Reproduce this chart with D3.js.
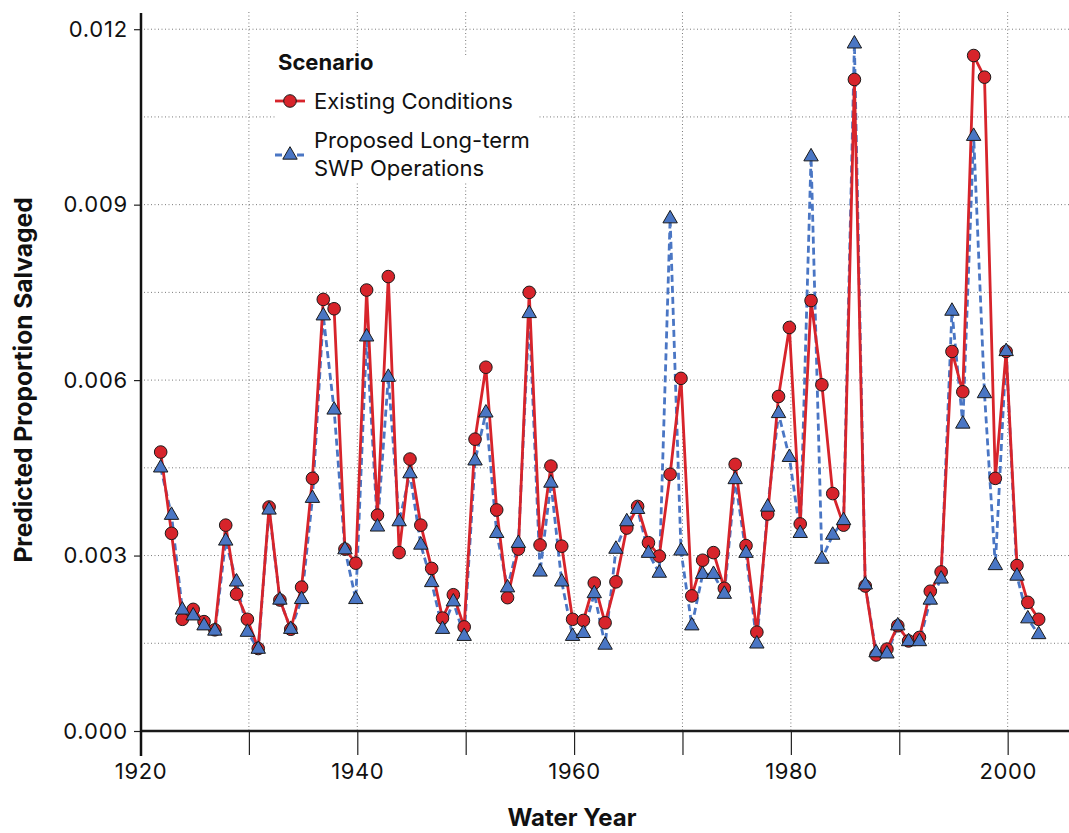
<!DOCTYPE html>
<html>
<head>
<meta charset="utf-8">
<script src="https://cdn.jsdelivr.net/npm/d3@7"></script>
<style>
	body { margin: 0; background: #fff; }
	svg { display: block; font-family: Inter, 'Liberation Sans', sans-serif; }
</style>
</head>
<body>
<svg id="main_svg"></svg>
<script>
const WIDTH = 1069;
const HEIGHT = 833;

const years = [
	1922, 1923, 1924, 1925, 1926, 1927, 1928, 1929, 1930, 1931,
	1932, 1933, 1934, 1935, 1936, 1937, 1938, 1939, 1940, 1941,
	1942, 1943, 1944, 1945, 1946, 1947, 1948, 1949, 1950, 1951,
	1952, 1953, 1954, 1955, 1956, 1957, 1958, 1959, 1960, 1961,
	1962, 1963, 1964, 1965, 1966, 1967, 1968, 1969, 1970, 1971,
	1972, 1973, 1974, 1975, 1976, 1977, 1978, 1979, 1980, 1981,
	1982, 1983, 1984, 1985, 1986, 1987, 1988, 1989, 1990, 1991,
	1992, 1993, 1994, 1995, 1996, 1997, 1998, 1999, 2000, 2001,
	2002, 2003
];

// Existing Conditions
const existing = [
	0.00477, 0.00338, 0.00191, 0.00208, 0.00187, 0.00173, 0.00352, 0.00234, 0.00191, 0.00141,
	0.00383, 0.00224, 0.00174, 0.00246, 0.00432, 0.00738, 0.00722, 0.00311, 0.00287, 0.00754,
	0.00369, 0.00777, 0.00305, 0.00465, 0.00352, 0.00278, 0.00193, 0.00233, 0.00178, 0.00499,
	0.00622, 0.00378, 0.00228, 0.00311, 0.00750, 0.00318, 0.00453, 0.00316, 0.00191, 0.00189,
	0.00253, 0.00185, 0.00255, 0.00347, 0.00384, 0.00322, 0.00299, 0.00439, 0.00603, 0.00231,
	0.00292, 0.00305, 0.00244, 0.00456, 0.00317, 0.00169, 0.00371, 0.00572, 0.00690, 0.00354,
	0.00736, 0.00592, 0.00406, 0.00352, 0.01114, 0.00248, 0.00130, 0.00140, 0.00180, 0.00154,
	0.00160, 0.00239, 0.00272, 0.00649, 0.00580, 0.01155, 0.01118, 0.00432, 0.00649, 0.00283,
	0.00220, 0.00191
];

// Proposed Long-term SWP Operations
const proposed = [
	0.00450, 0.00369, 0.00207, 0.00197, 0.00180, 0.00171, 0.00325, 0.00255, 0.00169, 0.00140,
	0.00378, 0.00224, 0.00174, 0.00225, 0.00398, 0.00710, 0.00549, 0.00310, 0.00225, 0.00674,
	0.00349, 0.00605, 0.00358, 0.00440, 0.00318, 0.00254, 0.00174, 0.00221, 0.00162, 0.00462,
	0.00544, 0.00338, 0.00245, 0.00321, 0.00714, 0.00272, 0.00424, 0.00255, 0.00162, 0.00167,
	0.00235, 0.00147, 0.00311, 0.00358, 0.00379, 0.00304, 0.00270, 0.00876, 0.00308, 0.00180,
	0.00268, 0.00268, 0.00234, 0.00430, 0.00304, 0.00149, 0.00383, 0.00543, 0.00468, 0.00338,
	0.00982, 0.00294, 0.00335, 0.00360, 0.01175, 0.00250, 0.00134, 0.00132, 0.00180, 0.00153,
	0.00153, 0.00224, 0.00260, 0.00718, 0.00525, 0.01017, 0.00577, 0.00283, 0.00649, 0.00265,
	0.00192, 0.00165
];

const x_ticks = [1920, 1940, 1960, 1980, 2000];
const x_grid = [1920, 1930, 1940, 1950, 1960, 1970, 1980, 1990, 2000];
const y_ticks = [0, 0.003, 0.006, 0.009, 0.012];
const y_grid = [0.0015, 0.003, 0.0045, 0.006, 0.0075, 0.009, 0.0105, 0.012];

const RED = '#d7242b';
const BLUE = '#4a76c4';

const svg = d3.select('#main_svg').attr('width', WIDTH).attr('height', HEIGHT);

const x_scale = d3.scaleLinear().domain([1920, 2006]).range([140.5, 1072.7]);
const y_scale = d3.scaleLinear().domain([0, 0.01226]).range([731, 14]);

// gridlines
svg.append('g').selectAll('line')
	.data(y_grid)
	.enter()
	.append('line')
	.attr('x1', 144).attr('x2', WIDTH)
	.attr('y1', d => y_scale(d)).attr('y2', d => y_scale(d))
	.attr('stroke', '#7a7a7a').attr('stroke-width', 1)
	.attr('stroke-dasharray', '1,2.5');

svg.append('g').selectAll('line')
	.data(x_grid.filter(d => d > 1920))
	.enter()
	.append('line')
	.attr('x1', d => x_scale(d)).attr('x2', d => x_scale(d))
	.attr('y1', 12).attr('y2', 730)
	.attr('stroke', '#7a7a7a').attr('stroke-width', 1)
	.attr('stroke-dasharray', '1,2.5');

// legend background hides grid under it
svg.append('rect')
	.attr('x', 275).attr('y', 55).attr('width', 262).attr('height', 128)
	.attr('fill', '#fff');

// x axis: zero line plus downward ticks
const x_axis = svg.append('g').attr('transform', 'translate(0,731)')
	.call(d3.axisBottom(x_scale).tickValues(x_grid).tickSize(24).tickPadding(8)
		.tickFormat(d => x_ticks.includes(d) ? d : ''));
x_axis.select('.domain').remove();
x_axis.selectAll('.tick line').attr('stroke', '#222').attr('stroke-width', 1.2);
x_axis.selectAll('.tick text')
	.attr('font-size', '22px').attr('font-family', 'Inter, sans-serif')
	.attr('letter-spacing', '0.6px')
	.attr('fill', '#111');

svg.append('line')
	.attr('x1', 141).attr('x2', WIDTH)
	.attr('y1', 731).attr('y2', 731)
	.attr('stroke', '#1a1a1a').attr('stroke-width', 2.5);

// y axis
const y_axis = svg.append('g').attr('transform', 'translate(141,0)')
	.call(d3.axisLeft(y_scale).tickValues(y_ticks).tickSize(7).tickPadding(6)
		.tickFormat(d3.format('.3f')));
y_axis.select('.domain').remove();
y_axis.selectAll('.tick line').attr('stroke', '#222').attr('stroke-width', 1.2);
y_axis.selectAll('.tick text')
	.attr('font-size', '22px').attr('font-family', 'Inter, sans-serif')
	.attr('letter-spacing', '0.8px')
	.attr('fill', '#111');

svg.append('line')
	.attr('x1', 141).attr('x2', 141)
	.attr('y1', 13).attr('y2', 756)
	.attr('stroke', '#111').attr('stroke-width', 2.5);

// axis titles
svg.append('text')
	.attr('x', 572).attr('y', 826)
	.attr('text-anchor', 'middle')
	.attr('font-size', '24px').attr('font-weight', 'bold')
	.attr('fill', '#111')
	.text('Water Year');

svg.append('text')
	.attr('transform', 'translate(32,380) rotate(-90)')
	.attr('text-anchor', 'middle')
	.attr('font-size', '24.5px').attr('font-weight', 'bold')
	.attr('fill', '#111')
	.text('Predicted Proportion Salvaged');

// series
const existing_data = years.map((e, i) => [e, existing[i]]);
const proposed_data = years.map((e, i) => [e, proposed[i]]);

const line = d3.line()
	.x(d => x_scale(d[0]) - 1.5)
	.y(d => y_scale(d[1]));

svg.append('path')
	.datum(proposed_data)
	.attr('d', line)
	.attr('fill', 'none')
	.attr('stroke', BLUE).attr('stroke-width', 2.8)
	.attr('stroke-dasharray', '7,4');

svg.append('path')
	.datum(existing_data)
	.attr('d', line)
	.attr('fill', 'none')
	.attr('stroke', RED).attr('stroke-width', 2.8);

svg.append('g').selectAll('circle')
	.data(existing_data)
	.enter()
	.append('circle')
	.attr('cx', d => x_scale(d[0]) - 1.5)
	.attr('cy', d => y_scale(d[1]))
	.attr('r', 6.3)
	.attr('fill', RED).attr('stroke', '#1a1a1a').attr('stroke-width', 1);

const tri = d3.symbol().type(d3.symbolTriangle).size(90);

svg.append('g').selectAll('path')
	.data(proposed_data)
	.enter()
	.append('path')
	.attr('d', tri)
	.attr('transform', d => `translate(${x_scale(d[0]) - 1.5},${y_scale(d[1])})`)
	.attr('fill', BLUE).attr('stroke', '#1a1a1a').attr('stroke-width', 1);

// legend
const legend = svg.append('g');
legend.append('text')
	.attr('x', 278).attr('y', 70)
	.attr('font-size', '22px').attr('font-weight', 'bold').attr('fill', '#111')
	.text('Scenario');

legend.append('line')
	.attr('x1', 275).attr('x2', 305).attr('y1', 101).attr('y2', 101)
	.attr('stroke', RED).attr('stroke-width', 2.8);
legend.append('circle')
	.attr('cx', 290).attr('cy', 101).attr('r', 6.3)
	.attr('fill', RED).attr('stroke', '#1a1a1a').attr('stroke-width', 1);
legend.append('text')
	.attr('x', 314).attr('y', 109)
	.attr('font-size', '22px').attr('fill', '#111')
	.text('Existing Conditions');

legend.append('line')
	.attr('x1', 275).attr('x2', 305).attr('y1', 155).attr('y2', 155)
	.attr('stroke', BLUE).attr('stroke-width', 2.8)
	.attr('stroke-dasharray', '7,4');
legend.append('path')
	.attr('d', tri)
	.attr('transform', 'translate(290,155)')
	.attr('fill', BLUE).attr('stroke', '#1a1a1a').attr('stroke-width', 1);
legend.append('text')
	.attr('x', 314).attr('y', 148)
	.attr('font-size', '22px').attr('fill', '#111')
	.text('Proposed Long-term');
legend.append('text')
	.attr('x', 314).attr('y', 176)
	.attr('font-size', '22px').attr('fill', '#111')
	.text('SWP Operations');
</script>
</body>
</html>
